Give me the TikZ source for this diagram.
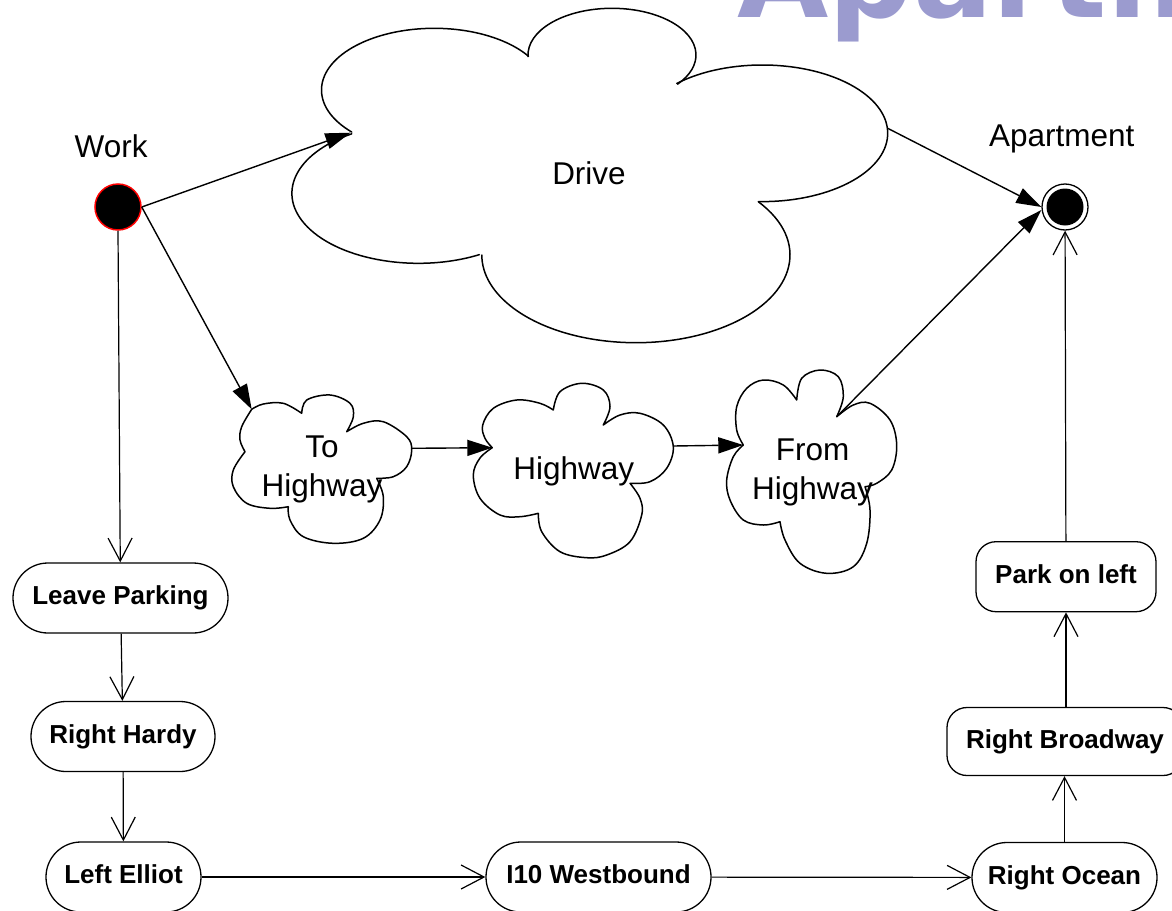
\documentclass[tikz,border=0pt]{standalone}
\usepackage{fontspec}
\setmainfont{Liberation Sans}
\newfontfamily\titlefont{DejaVu Sans}
\usetikzlibrary{arrows.meta}
\definecolor{lav}{RGB}{155,155,207}
\newcommand\mylblfont{\fontsize{31.5}{39}\selectfont}
\newcommand\myactfont{\bfseries\fontsize{26}{30}\selectfont}
\tikzset{
  cloudline/.style={draw=black, line width=1.5pt, line cap=round, line join=round},
  lbl/.style={font=\mylblfont, inner sep=0pt},
  cloudtext/.style={font=\mylblfont, inner sep=0pt, align=center},
  act/.style={draw=black, line width=1.3pt, rounded corners=34.9pt, inner sep=0pt,
              minimum height=70pt, font=\myactfont, text height=18.6pt, text depth=5.5pt},
  actsq/.style={act, rounded corners=20pt},
  flow/.style={draw=black, line width=1.2pt, -{Straight Barb[length=23pt,width=24pt,line width=1.2pt]}},
  solid/.style={draw=black, line width=1.4pt, -{Triangle[length=25pt,width=16pt]}},
}
\begin{document}
\begin{tikzpicture}[x=1pt,y=-1pt]
\useasboundingbox (0,0) rectangle (1172,910);
\clip (0,0) rectangle (1172,910);

% large title text cut off at the top
\node[anchor=base west, inner sep=0pt, text=lav,
      font={\titlefont\bfseries\fontsize{118}{120}\selectfont}] (title) at (737,17) {Apartment};

% initial and final states
\node[circle, fill=black, draw=red, line width=1.5pt, minimum size=46pt, inner sep=0pt] (work) at (118,207) {};
\node[lbl, anchor=base] (worklbl) at (111.2,157.3) {Work};
\node[circle, draw=black, line width=1.3pt, fill=white, minimum size=46pt, inner sep=0pt] (apt) at (1065,207) {};
\node[circle, fill=black, minimum size=37pt, inner sep=0pt] (aptdot) at (apt) {};
\node[lbl, anchor=base] (aptlbl) at (1061.7,146) {Apartment};

% Drive cloud (five elliptical lobes)
\draw[cloudline] (434.2,90) ++(137:112.7 and 61.7)
  arc[start angle=137, end angle=326.8, x radius=112.7, y radius=61.7];
\draw[cloudline] (612,55) ++(178:84 and 46.7)
  arc[start angle=178, end angle=398.7, x radius=84, y radius=46.7];
\draw[cloudline] (762.4,133.3) ++(226.9:125.3 and 68.3)
  arc[start angle=226.9, end angle=451.8, x radius=125.3, y radius=68.3];
\draw[cloudline] (635.9,255) ++(-37.4:154.1 and 87.7)
  arc[start angle=-37.4, end angle=180, x radius=154.1, y radius=87.7];
\draw[cloudline] (418.4,193.3) ++(61.2:126.5 and 70)
  arc[start angle=61.2, end angle=238.2, x radius=126.5, y radius=70];
\coordinate (drive-in) at (350.4,132.7);
\coordinate (drive-out) at (887.7,128.3);
\node[lbl, anchor=base] (drive) at (589,184.3) {Drive};

% To Highway cloud
\draw[cloudline]
  plot[smooth, tension=0.6] coordinates {(251.7,409.3) (263.3,404) (283.3,403.3) (301.7,413.3)}
  plot[smooth, tension=0.6] coordinates {(301.7,413.3) (306.7,400) (330,395) (350,403.3) (353.3,416.7) (346.7,431.7)}
  plot[smooth, tension=0.6] coordinates {(346.7,431.7) (363.3,423.3) (383.3,421.7) (406.7,436.7) (411.7,450) (406.7,466.7) (393.3,476.7) (376.7,478.3)}
  plot[smooth, tension=0.6] coordinates {(376.7,478.3) (383.3,496.7) (380,520) (363.3,538.3) (333.3,543.3) (303.3,536.7) (290,520) (288.3,506.7)}
  plot[smooth, tension=0.6] coordinates {(288.3,506.7) (270,508.3) (246.7,503.3) (233.3,486.7) (233.3,470) (245,451.7)}
  plot[smooth, tension=0.6] coordinates {(245,451.7) (240,440) (241.7,426.7) (251.7,409.3)};
\coordinate (toh-in) at (251.7,409.3);
\coordinate (toh-out) at (411.7,448.3);
\node[cloudtext] (toh) at (322,469.8) {To\\Highway};

% Highway cloud
\draw[cloudline]
  plot[smooth, tension=0.6] coordinates {(492.3,447.7) (485,438.3) (482.7,425) (493.3,408.3) (516.7,400) (540,403.3) (553.3,410)}
  plot[smooth, tension=0.6] coordinates {(553.3,410) (560,391.7) (581.7,383.3) (603.3,390) (610,406.7) (603.3,425)}
  plot[smooth, tension=0.6] coordinates {(603.3,425) (620,415) (640,413.3) (663.3,425) (673.3,446.7) (666.7,468.3) (650,481.7) (630,483.3)}
  plot[smooth, tension=0.6] coordinates {(630,483.3) (640,498.3) (641.7,515) (630,541.7) (606.7,555) (586.7,557.7) (560,551.7) (541.7,531.7) (538.3,513.3)}
  plot[smooth, tension=0.6] coordinates {(538.3,513.3) (520,516.7) (500,515) (480,498.3) (473.3,475) (480,458) (492.3,447.7)};
\coordinate (hw-in) at (492.3,447.7);
\coordinate (hw-out) at (673.3,446);
\node[lbl, anchor=base] (hw) at (573.7,479) {Highway};

% From Highway cloud
\draw[cloudline]
  plot[smooth, tension=0.6] coordinates {(743.3,445) (736.7,430) (736.7,406.7) (746.7,388.3) (763.3,380) (783.3,385) (796.7,400)}
  plot[smooth, tension=0.6] coordinates {(796.7,400) (801.7,378.3) (820,370) (838.3,376.7) (843.3,396.7) (836.7,416.7)}
  plot[smooth, tension=0.6] coordinates {(836.7,416.7) (853.3,405) (870,403.3) (890,420) (896.7,445) (891.7,470) (876.7,483.3) (865,486.7)}
  plot[smooth, tension=0.6] coordinates {(865,486.7) (870,510) (866.7,543.3) (853.3,566.7) (826.7,573.3) (800,563.3) (785,540) (780,521.7)}
  plot[smooth, tension=0.6] coordinates {(780,521.7) (763.3,525) (743.3,520) (730,500) (726.7,480) (733.3,456.7) (743.3,445)};
\coordinate (fh-in) at (743.3,445);
\coordinate (fh-out) at (836.7,416.7);
\node[cloudtext] (fh) at (812.5,472) {From\\Highway};

% activity states
\node[act, minimum width=215pt] (leave) at (120.5,598) {Leave Parking};
\node[act, minimum width=184pt] (hardy) at (123,736.5) {Right Hardy};
\node[act, minimum width=155pt] (elliot) at (123.5,877) {Left Elliot};
\node[act, minimum width=225pt] (i10) at (598.5,877) {I10 Westbound};
\node[act, minimum width=185pt] (ocean) at (1064.5,877.5) {Right Ocean};
\node[actsq, minimum width=236pt, minimum height=68pt] (broad) at (1065,741.5) {Right Broadway};
\node[actsq, minimum width=180pt] (park) at (1066,576.7) {Park on left};

% connectors
\draw[solid] (work.east) -- (drive-in);
\draw[solid] (work.east) -- (toh-in);
\draw[solid] (toh-out) -- (hw-in);
\draw[solid] (hw-out) -- (fh-in);
\draw[solid] (drive-out) -- (apt.west);
\draw[solid] (fh-out) -- ([yshift=-3pt]apt.west);

\draw[flow] (work.south) -- (leave);
\draw[flow] (leave) -- (hardy);
\draw[flow] (hardy) -- (elliot);
\draw[flow] (elliot) -- (i10);
\draw[flow] (i10) -- (ocean);
\draw[flow] (ocean) -- (ocean |- broad.south);
\draw[flow] (broad.north -| park) -- (park);
\draw[flow] (park) -- (apt);
\end{tikzpicture}
\end{document}
